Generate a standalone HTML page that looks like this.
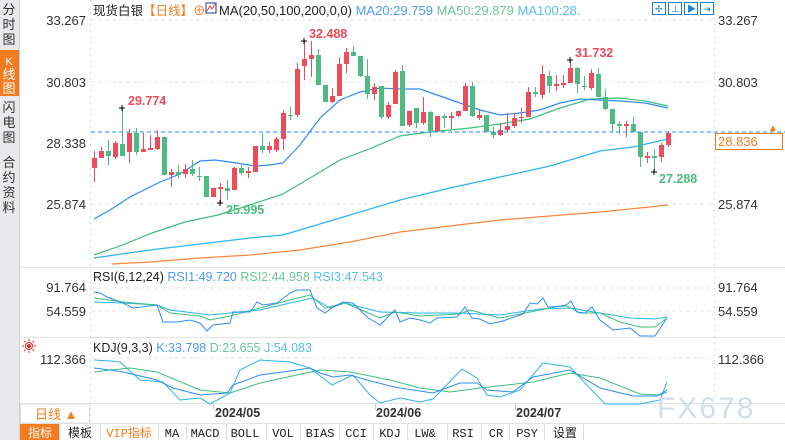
<!DOCTYPE html>
<html><head><meta charset="utf-8"><style>
body{margin:0;width:785px;height:440px;overflow:hidden;background:#fff;font-family:"Liberation Sans","Noto Sans CJK SC",sans-serif;}
svg{position:absolute;left:0;top:0}
</style></head><body>
<svg id="s" width="785" height="440" xmlns="http://www.w3.org/2000/svg" font-family="Liberation Sans, Noto Sans CJK SC, sans-serif">
<!-- sidebar -->
<rect x="0" y="0" width="19" height="440" fill="#e9e9ec"/>
<rect x="0" y="50" width="19" height="46" fill="#f47b20"/>
<line x1="19.5" y1="0" x2="19.5" y2="440" stroke="#cfcfcf"/>
<g font-size="13" fill="#333" text-anchor="middle">
<text x="9" y="14">分</text><text x="9" y="29">时</text><text x="9" y="44">图</text>
<text x="9" y="65" fill="#fff" font-size="11">K</text><text x="9" y="79" fill="#fff">线</text><text x="9" y="93" fill="#fff">图</text>
<text x="9" y="112">闪</text><text x="9" y="127">电</text><text x="9" y="142">图</text>
<text x="9" y="167">合</text><text x="9" y="182">约</text><text x="9" y="197">资</text><text x="9" y="212">料</text>
</g>
<!-- grid -->
<g stroke="#e6e6e6" stroke-dasharray="4,3">
<line x1="91" y1="20" x2="713" y2="20"/><line x1="91" y1="82" x2="713" y2="82"/><line x1="91" y1="204" x2="713" y2="204"/>
<line x1="91" y1="288" x2="713" y2="288"/><line x1="91" y1="311" x2="713" y2="311"/><line x1="91" y1="358" x2="713" y2="358"/>
</g>
<g stroke="#e3e3e3"><line x1="20" y1="267.5" x2="785" y2="267.5"/><line x1="20" y1="337.5" x2="785" y2="337.5"/><line x1="20" y1="403.5" x2="785" y2="403.5"/><line x1="20" y1="423.5" x2="785" y2="423.5"/></g>
<line x1="90.5" y1="0" x2="90.5" y2="423" stroke="#ddd" stroke-dasharray="2,4"/>
<line x1="714.5" y1="0" x2="714.5" y2="403" stroke="#ddd" stroke-dasharray="2,4"/>
<!-- axis labels -->
<g font-size="13" fill="#333" text-anchor="end">
<text x="86" y="25">33.267</text><text x="86" y="87">30.803</text><text x="86" y="148">28.338</text><text x="86" y="209">25.874</text>
<text x="86" y="292">91.764</text><text x="86" y="316">54.559</text><text x="86" y="364">112.366</text>
</g>
<g font-size="13" fill="#333">
<text x="718" y="25">33.267</text><text x="718" y="87">30.803</text><text x="718" y="209">25.874</text>
<text x="718" y="292">91.764</text><text x="718" y="316">54.559</text><text x="718" y="364">112.366</text>
</g>
<!-- header -->
<text x="93" y="15" font-size="12.5" fill="#222">现货白银<tspan fill="#f47b20">【日线】</tspan><tspan fill="#f47b20">⊕</tspan></text>
<rect x="206" y="3" width="10" height="10" fill="#fff" stroke="#1a3d8f"/><polyline points="207,11 210,6 212,9 215,4" fill="none" stroke="#e33"/>
<text x="219" y="15" font-size="13" fill="#222">MA(20,50,100,200,0,0) <tspan fill="#4f9cf5">MA20:29.759</tspan> <tspan fill="#6cc79a">MA50:29.879</tspan> <tspan fill="#5bbfea">MA100:28.</tspan></text>
<g fill="none" stroke="#1f7fd6"><rect x="652.5" y="2.5" width="13" height="12"/><rect x="668.5" y="2.5" width="13" height="12"/><rect x="684.5" y="2.5" width="13" height="12"/><rect x="700.5" y="2.5" width="13" height="12"/></g>
<g fill="#1f7fd6" font-size="9"><text x="655" y="12">✣</text><text x="671" y="12">⊥</text><text x="687" y="12">▶</text><text x="703" y="12">⇥</text></g>
<!-- MAs -->
<g fill="none" stroke-width="1.2">
<polyline stroke="#f7873c" points="112,264 150,262 200,258 250,255 300,250 350,242 400,232 450,226 500,220 550,216 600,212 640,208 668,205"/>
<polyline stroke="#2bb4ee" points="94,258 150,250 200,244 250,238 283,235 340,218 400,200 450,188 500,177 550,166 600,151 633,147 668,139"/>
<polyline stroke="#3fbf7a" points="94,255 120,246 152,233 185,222 218,215 250,205 283,194 310,178 340,160 369,149 400,136 430,132 470,128 500,124 530,119 560,108 590,99 620,98 645,101 668,106"/>
<polyline stroke="#2f8cf5" points="94,219 110,210 130,197 160,182 180,174 200,161 215,160 230,162 255,166 270,165 283,163 300,145 320,118 340,100 360,92 380,88 400,89 420,89 440,96 460,103 480,110 500,115 520,113 540,110 560,103 580,99 600,100 620,101 645,103 668,108"/>
</g>
<g id="candles"></g>
<line x1="91" y1="132" x2="785" y2="132" stroke="#1e88ff" stroke-dasharray="4,3"/>
<rect x="715.5" y="133.5" width="67" height="16" fill="#fff" stroke="#f47b20"/>
<text x="718" y="146" font-size="13" fill="#f47b20">28.836</text>
<text x="773" y="131" font-size="10" fill="#f47b20" text-anchor="middle">▲</text>
<!-- extreme labels -->
<g font-size="12.5" font-weight="bold">
<text x="128" y="105" fill="#e94b5c">29.774</text><text x="309" y="38" fill="#e94b5c">32.488</text><text x="575" y="57" fill="#e94b5c">31.732</text>
<text x="226" y="214" fill="#4fba84">25.995</text><text x="659" y="183" fill="#4fba84">27.288</text>
</g>
<g stroke="#000"><path d="M119 108h6M122 105v6M301 41h6M304 38v6M567 60h6M570 57v6M217 203h6M220 200v6M651 172h6M654 169v6"/></g>
<!-- RSI -->
<text x="93" y="281" font-size="12.5" fill="#222">RSI(6,12,24) <tspan fill="#4f9cf5">RSI1:49.720</tspan>  <tspan fill="#6cc79a">RSI2:44.958</tspan>  <tspan fill="#5bbfea">RSI3:47.543</tspan></text>
<g fill="none" stroke-width="1">
<polyline stroke="#2bb4ee" points="94,302 123,303 157,305 170,310 210,315 260,310 290,303 313,298 330,308 345,303 380,312 420,313 460,313 500,315 540,309 570,308 600,313 630,318 655,319 667,317"/>
<polyline stroke="#3fbf7a" points="94,298 123,302 157,305 170,313 200,316 210,320 230,316 260,308 290,300 310,295 325,308 345,303 380,318 395,312 420,316 460,314 470,310 500,318 540,310 565,305 580,313 600,313 620,322 640,327 655,327 667,318"/>
<polyline stroke="#2f8cf5" points="94,292 100,293 107,297 123,303 133,308 157,305 163,322 177,322 190,320 200,323 207,331 213,325 230,323 233,312 250,312 257,302 263,305 277,303 290,293 297,290 310,290 317,308 325,313 333,307 343,302 353,303 367,317 380,325 395,310 400,322 410,318 420,320 430,323 437,318 457,317 465,307 472,318 480,319 490,324 503,321 523,314 530,303 537,304 543,298 548,307 565,306 571,301 577,312 585,313 592,307 600,320 613,330 630,328 640,336 655,336 667,318"/>
</g>
<!-- KDJ -->
<g transform="translate(29,346)" fill="none" stroke="#e22"><circle r="3.5"/><circle r="1.5" fill="#e22"/><path d="M0 -7v2M0 5v2M-7 0h2M5 0h2M-5 -5l1.5 1.5M5 5l-1.5 -1.5M-5 5l1.5 -1.5M5 -5l-1.5 1.5"/></g>
<text x="93" y="352" font-size="12.5" fill="#222">KDJ(9,3,3) <tspan fill="#4f9cf5">K:33.798</tspan>  <tspan fill="#6cc79a">D:23.655</tspan>  <tspan fill="#5bbfea">J:54.083</tspan></text>
<g fill="none" stroke-width="1">
<polyline stroke="#3fbf7a" points="94,372 110,370 130,368 157,372 200,390 230,393 260,383 283,378 320,370 350,372 390,380 420,388 450,392 480,388 533,382 570,373 600,378 640,394 660,395 667,392"/>
<polyline stroke="#2bb4ee" points="94,360 110,361 120,362 140,380 163,382 180,400 200,398 210,404 230,393 240,370 260,360 290,362 310,368 332,385 353,375 370,395 380,403 400,398 420,402 433,399 462,369 477,378 487,395 500,397 520,390 543,363 570,367 605,404 640,404 660,400 667,382"/>
<polyline stroke="#2f8cf5" points="94,368 110,370 123,372 157,380 173,388 200,395 227,393 233,385 260,375 283,372 310,368 320,373 333,377 350,375 367,380 390,386 400,388 433,393 460,383 477,383 487,390 513,392 533,377 570,370 600,388 633,396 657,396 667,390"/>
</g>
<!-- watermark -->
<text x="657" y="418" font-size="30" fill="#c9d6e6" opacity="0.8" letter-spacing="2">FX678</text>
<!-- date axis -->
<rect x="20.5" y="404" width="69" height="19" fill="#fff" stroke="#ddd"/>
<text x="35" y="419" font-size="13" fill="#f47b20">日线 ▲</text>
<g stroke="#ccc"><line x1="213.5" y1="404" x2="213.5" y2="410"/><line x1="375.5" y1="404" x2="375.5" y2="410"/><line x1="515.5" y1="404" x2="515.5" y2="410"/></g>
<g font-size="12.5" font-weight="bold" fill="#333"><text x="215" y="417">2024/05</text><text x="376" y="417">2024/06</text><text x="516" y="417">2024/07</text></g>
<!-- bottom tabs -->
<rect x="20" y="424" width="39" height="16" fill="#f47b20"/>
<g font-size="12" fill="#222" text-anchor="middle" font-family="Liberation Mono, Noto Sans CJK SC, monospace">
<text x="40" y="437" fill="#fff" font-family="Noto Sans CJK SC, sans-serif">指标</text>
<text x="80" y="437" font-family="Noto Sans CJK SC, sans-serif">模板</text>
<text x="129" y="437" fill="#f47b20">VIP指标</text>
<text x="172" y="437">MA</text><text x="205" y="437">MACD</text><text x="245" y="437">BOLL</text><text x="283" y="437">VOL</text><text x="320" y="437">BIAS</text><text x="356" y="437">CCI</text><text x="390" y="437">KDJ</text><text x="425" y="437">LW&amp;</text><text x="463" y="437">RSI</text><text x="496" y="437">CR</text><text x="527" y="437">PSY</text>
<text x="565" y="437" font-family="Noto Sans CJK SC, sans-serif">设置</text>
</g>
<g stroke="#ddd"><path d="M59.5 424v16M100.5 424v16M158.5 424v16M186.5 424v16M226.5 424v16M266.5 424v16M300.5 424v16M339.5 424v16M373.5 424v16M407.5 424v16M447.5 424v16M481.5 424v16M509.5 424v16M544.5 424v16M583.5 424v16"/></g>
</svg>
<script>
var R="#eb4d5c",G="#4fba84";
// x, bodyTop, bodyBot, hi, lo, color
var d=[
[94,158,168,151,182,R],[101,151,158,147,158,R],[108,151,156,140,165,G],[115,143,157,141,159,R],[122,144,156,108,156,G],
[129,133,152,129,163,R],[136,133,152,128,155,G],[143,149,152,133,152,R],[150,148,150,135,150,R],[157,137,149,130,150,R],
[164,137,175,137,175,G],[171,172,175,169,187,R],[178,172,175,165,178,G],[185,169,174,164,178,R],[192,169,174,160,176,G],
[199,176,177,167,181,G],[206,176,197,176,197,G],[213,188,197,188,197,R],[220,187,189,183,203,R],[227,188,191,180,200,G],
[234,168,190,167,190,R],[241,168,173,165,175,G],[248,171,173,167,178,R],[255,146,172,146,172,R],[262,146,150,133,153,G],
[269,146,150,142,153,R],[276,139,150,137,152,R],[283,113,139,110,150,R],[290,115,116,107,120,G],[297,69,115,63,117,R],
[304,59,66,40,80,R],[311,55,59,41,77,R],[318,55,85,49,85,G],[325,85,102,85,102,G],[332,96,102,88,103,R],
[339,64,96,57,96,R],[346,52,64,48,73,R],[353,52,56,46,56,G],[360,56,76,56,77,G],[367,76,94,59,99,G],
[374,87,94,83,100,R],[381,86,117,86,119,G],[388,105,117,102,119,R],[395,72,104,70,104,R],[402,71,126,65,126,G],
[409,111,125,111,127,R],[416,108,123,108,128,G],[423,112,123,97,125,R],[430,112,131,111,137,G],[437,116,131,116,132,R],
[444,116,118,114,128,G],[451,116,118,112,129,R],[458,111,116,111,117,R],[465,86,111,83,111,R],[472,86,116,82,117,G],
[479,115,118,110,120,R],[486,115,132,115,132,G],[493,132,135,127,138,G],[500,130,135,123,136,R],[507,126,130,113,132,R],
[514,118,126,113,128,R],[521,117,118,108,123,R],[528,92,117,87,117,R],[535,92,94,87,97,G],[542,74,95,65,99,R],
[549,76,86,71,93,G],[556,84,86,75,91,R],[563,83,85,75,88,R],[570,68,83,60,83,R],[577,68,84,67,93,G],
[584,86,87,76,90,G],[591,73,88,69,90,R],[598,74,97,68,97,G],[605,97,109,89,110,G],[612,109,124,109,132,G],
[619,124,126,121,134,G],[626,124,126,121,137,R],[633,124,132,117,132,G],[640,132,157,132,167,G],[647,156,158,152,163,R],
[654,156,158,149,172,G],[661,145,157,143,162,R],[668,133,145,131,147,R]];
var s="";d.forEach(function(c){var x=c[0];s+='<line x1="'+(x+.5)+'" y1="'+c[3]+'" x2="'+(x+.5)+'" y2="'+c[4]+'" stroke="'+c[5]+'"/>';
var h=Math.max(1,c[2]-c[1]);s+='<rect x="'+(x-2)+'" y="'+c[1]+'" width="5" height="'+h+'" fill="'+c[5]+'"/>';});
document.getElementById("candles").innerHTML=s;
</script>
</body></html>
